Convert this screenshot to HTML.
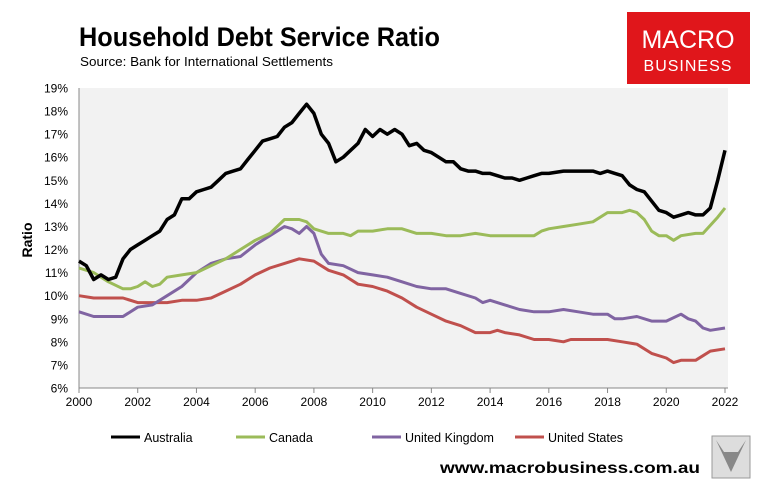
<!DOCTYPE html>
<html><head><meta charset="utf-8"><style>
body{margin:0;background:#fff;}
#wrap{position:relative;width:758px;height:488px;overflow:hidden;font-family:"Liberation Sans",sans-serif;}
</style></head><body>
<div id="wrap">
<svg id="chart" width="758" height="488"></svg>
</div>
<script>
const australiaX=[2000,2000.25,2000.5,2000.75,2001,2001.25,2001.5,2001.75,2002,2002.25,2002.5,2002.75,2003,2003.25,2003.5,2003.75,2004,2004.25,2004.5,2004.75,2005,2005.25,2005.5,2005.75,2006,2006.25,2006.5,2006.75,2007,2007.25,2007.5,2007.75,2008,2008.25,2008.5,2008.75,2009,2009.25,2009.5,2009.75,2010,2010.25,2010.5,2010.75,2011,2011.25,2011.5,2011.75,2012,2012.25,2012.5,2012.75,2013,2013.25,2013.5,2013.75,2014,2014.25,2014.5,2014.75,2015,2015.25,2015.5,2015.75,2016,2016.5,2017,2017.5,2017.75,2018,2018.25,2018.5,2018.75,2019,2019.25,2019.5,2019.75,2020,2020.25,2020.5,2020.75,2021,2021.25,2021.5,2021.75,2022];
const australiaY=[11.5,11.3,10.7,10.9,10.7,10.8,11.6,12.0,12.2,12.4,12.6,12.8,13.3,13.5,14.2,14.2,14.5,14.6,14.7,15.0,15.3,15.4,15.5,15.9,16.3,16.7,16.8,16.9,17.3,17.5,17.9,18.3,17.9,17.0,16.6,15.8,16.0,16.3,16.6,17.2,16.9,17.2,17.0,17.2,17.0,16.5,16.6,16.3,16.2,16.0,15.8,15.8,15.5,15.4,15.4,15.3,15.3,15.2,15.1,15.1,15.0,15.1,15.2,15.3,15.3,15.4,15.4,15.4,15.3,15.4,15.3,15.2,14.8,14.6,14.5,14.1,13.7,13.6,13.4,13.5,13.6,13.5,13.5,13.8,15.0,16.3];
const canadaX=[2000,2000.5,2001,2001.5,2001.75,2002,2002.25,2002.5,2002.75,2003,2003.5,2004,2004.5,2005,2005.5,2006,2006.5,2007,2007.5,2007.75,2008,2008.5,2009,2009.25,2009.5,2010,2010.5,2011,2011.5,2012,2012.5,2013,2013.5,2014,2014.5,2015,2015.5,2015.75,2016,2016.5,2017,2017.5,2018,2018.5,2018.75,2019,2019.25,2019.5,2019.75,2020,2020.25,2020.5,2021,2021.25,2021.75,2022];
const canadaY=[11.2,11.0,10.6,10.3,10.3,10.4,10.6,10.4,10.5,10.8,10.9,11.0,11.3,11.6,12.0,12.4,12.7,13.3,13.3,13.2,12.9,12.7,12.7,12.6,12.8,12.8,12.9,12.9,12.7,12.7,12.6,12.6,12.7,12.6,12.6,12.6,12.6,12.8,12.9,13.0,13.1,13.2,13.6,13.6,13.7,13.6,13.3,12.8,12.6,12.6,12.4,12.6,12.7,12.7,13.4,13.8];
const ukX=[2000,2000.5,2001.5,2002,2002.5,2003,2003.5,2004,2004.5,2005,2005.5,2006,2006.5,2007,2007.25,2007.5,2007.75,2008,2008.25,2008.5,2009,2009.5,2010,2010.5,2011,2011.5,2012,2012.5,2013,2013.5,2013.75,2014,2014.5,2015,2015.5,2016,2016.5,2017,2017.5,2018,2018.25,2018.5,2019,2019.5,2020,2020.5,2020.75,2021,2021.25,2021.5,2022];
const ukY=[9.3,9.1,9.1,9.5,9.6,10.0,10.4,11.0,11.4,11.6,11.7,12.2,12.6,13.0,12.9,12.7,13.0,12.7,11.8,11.4,11.3,11.0,10.9,10.8,10.6,10.4,10.3,10.3,10.1,9.9,9.7,9.8,9.6,9.4,9.3,9.3,9.4,9.3,9.2,9.2,9.0,9.0,9.1,8.9,8.9,9.2,9.0,8.9,8.6,8.5,8.6];
const usX=[2000,2000.5,2001.5,2002,2003,2003.5,2004,2004.5,2005,2005.5,2006,2006.5,2007,2007.5,2008,2008.5,2009,2009.5,2010,2010.5,2011,2011.5,2012,2012.5,2013,2013.5,2014,2014.25,2014.5,2015,2015.5,2016,2016.5,2016.75,2018,2018.5,2019,2019.5,2020,2020.25,2020.5,2021,2021.25,2021.5,2022];
const usY=[10.0,9.9,9.9,9.7,9.7,9.8,9.8,9.9,10.2,10.5,10.9,11.2,11.4,11.6,11.5,11.1,10.9,10.5,10.4,10.2,9.9,9.5,9.2,8.9,8.7,8.4,8.4,8.5,8.4,8.3,8.1,8.1,8.0,8.1,8.1,8.0,7.9,7.5,7.3,7.1,7.2,7.2,7.4,7.6,7.7];
const yTicks=[6,7,8,9,10,11,12,13,14,15,16,17,18,19];
const xTicks=[2000,2002,2004,2006,2008,2010,2012,2014,2016,2018,2020,2022];
const seriesNames=["Australia","Canada","United Kingdom","United States"];

const svg=document.getElementById('chart');
const NS='http://www.w3.org/2000/svg';
const L=79,R=725,T=88,B=388;
function xs(v){return L+(v-2000)/22*(R-L);}
function ys(v){return B-(v-6)/13*(B-T);}
function mk(tag,attrs,parent){const e=document.createElementNS(NS,tag);for(const k in attrs)e.setAttribute(k,attrs[k]);(parent||svg).appendChild(e);return e;}

const bg=mk('rect',{x:L,y:T,width:649,height:B-T,fill:'#f2f2f2'});



const title=mk('text',{x:79,y:46,'font-size':27,'font-weight':'bold',fill:'#000',textLength:361,lengthAdjust:'spacingAndGlyphs'});
title.textContent='Household Debt Service Ratio';


const sub=mk('text',{x:80,y:66,'font-size':13,fill:'#000',textLength:253,lengthAdjust:'spacingAndGlyphs'});
sub.textContent='Source: Bank for International Settlements';



const lg=mk('g',{});


mk('rect',{x:627,y:12,width:123,height:72,fill:'#e0161b'},lg);
const l1=mk('text',{x:688,y:48,'font-size':25,fill:'#fff','text-anchor':'middle'},lg);l1.textContent='MACRO';
const l2=mk('text',{x:688,y:71,'font-size':16,fill:'#fff','text-anchor':'middle','letter-spacing':'1'},lg);l2.textContent='BUSINESS';

const ax=mk('line',{x1:L,y1:T,x2:L,y2:B,stroke:'#888','stroke-width':1});


const bx=mk('line',{x1:L,y1:B,x2:728,y2:B,stroke:'#888','stroke-width':1});


yTicks.forEach(t=>{
  const tx=mk('text',{x:68,y:ys(t)+4.5,'font-size':12,'text-anchor':'end',fill:'#000'});
  tx.textContent=t+'%';
  
  
});
xTicks.forEach(t=>{
  mk('line',{x1:xs(t),y1:B,x2:xs(t),y2:B+5,stroke:'#888'});
  const tx=mk('text',{x:xs(t),y:B+18,'font-size':12,'text-anchor':'middle',fill:'#000'});
  tx.textContent=t;
  
  
});
const yt=mk('text',{x:0,y:0,'font-size':14,'font-weight':'bold','text-anchor':'middle',transform:'translate(32,240) rotate(-90)'});
yt.textContent='Ratio';



const colors=['#000000','#9bbb59','#8064a2','#c0504d'];
const data=[[australiaX,australiaY],[canadaX,canadaY],[ukX,ukY],[usX,usY]];
const lineNames=['line-australia','line-canada','line-uk','line-us'];
[3,2,1,0].forEach(i=>{
  const [X,Y]=data[i];
  const d=X.map((x,j)=>(j?'L':'M')+xs(x).toFixed(1)+','+ys(Y[j]).toFixed(1)).join('');
  const p=mk('path',{d:d,fill:'none',stroke:colors[i],'stroke-width':i==0?3.5:3,'stroke-linejoin':'round'});
  
  
});

const legX=[111,236,372,515];
seriesNames.forEach((n,i)=>{
  const g=mk('g',{});
  
  
  mk('line',{x1:legX[i],y1:437,x2:legX[i]+29,y2:437,stroke:colors[i],'stroke-width':3},g);
  const t=mk('text',{x:legX[i]+33,y:442,'font-size':12.5},g);t.textContent=n;
});

const web=mk('text',{x:440,y:473,'font-size':16,'font-weight':'bold',textLength:260,lengthAdjust:'spacingAndGlyphs'});
web.textContent='www.macrobusiness.com.au';



const fox=mk('g',{});


mk('rect',{x:712,y:436,width:38,height:42,fill:'#ddd',stroke:'#999'},fox);
mk('path',{d:'M716,440 L731,472 L746,440 L738,452 L724,452 Z',fill:'#888'},fox);
</script>
</body></html>
